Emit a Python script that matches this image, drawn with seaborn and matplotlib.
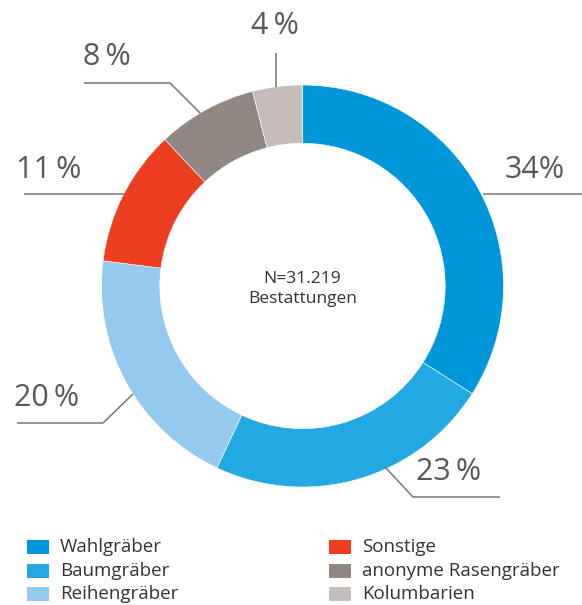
import matplotlib
matplotlib.use("Agg")
import matplotlib.pyplot as plt
import seaborn as sns
from matplotlib.patches import Rectangle

# data
categories = ["Wahlgräber", "Baumgräber", "Reihengräber", "Sonstige",
              "anonyme Rasengräber", "Kolumbarien"]
shares = [34, 23, 20, 11, 8, 4]
share_labels = ["34%", "23\u2009%", "20\u2009%", "11\u2009%", "8\u2009%", "4\u2009%"]
colors = ["#0096da", "#23a9e1", "#93caed", "#ee3e22", "#918782", "#c5bdba"]
center_text = "N=31.219\nBestattungen"

sns.set_theme(style="white")
plt.rcParams["font.family"] = ["Open Sans", "DejaVu Sans"]

W, H = 582, 605
fig = plt.figure(figsize=(W / 100, H / 100), dpi=100)
ax = fig.add_axes([0, 0, 1, 1])


def py(y):
    # pixel y (top-down) -> data y
    return H - y


cx, cy, r = 302.5, 286, 201
ax.pie(shares, colors=sns.color_palette(colors), startangle=90, counterclock=False,
       center=(cx, py(cy)), radius=r, frame=True,
       wedgeprops=dict(width=r * 0.29, edgecolor="white", linewidth=0.4))
ax.set_xlim(0, W)
ax.set_ylim(0, H)
ax.set_aspect("equal")
ax.axis("off")

ax.text(cx, py(289), center_text, ha="center", va="center", fontsize=12.5,
        color="#333333", linespacing=1.3)

# label layout (pixel positions) and leader lines
label_pos = [(535, 170), (449, 472), (47, 398), (49, 170), (107, 57), (275, 26)]
leaders = [
    [(483, 194), (582, 194)],
    [(385, 467), (413, 497), (500, 497)],
    [(17, 423), (103, 423), (133, 394)],
    [(24, 194), (125, 194)],
    [(84, 83), (170, 83), (200, 113)],
    [(276, 53), (276, 87)],
]
for lab, (tx, ty), pts in zip(share_labels, label_pos, leaders):
    ax.text(tx, py(ty), lab, ha="center", va="center", fontsize=22,
            color="#595959")
    xs = [p[0] for p in pts]
    ys = [py(p[1]) for p in pts]
    ax.plot(xs, ys, color="#777777", lw=1.1, solid_capstyle="butt")

# legend
for i, (cat, col) in enumerate(zip(categories, colors)):
    x0 = 27 if i < 3 else 329
    yc = 547 + (i % 3) * 23.5
    ax.add_patch(Rectangle((x0, py(yc + 7)), 22, 14, facecolor=col, edgecolor="none"))
    ax.text(x0 + 33, py(yc), cat, ha="left", va="center", fontsize=13.5,
            color="#333333")

fig.savefig("out.png", dpi=100)
